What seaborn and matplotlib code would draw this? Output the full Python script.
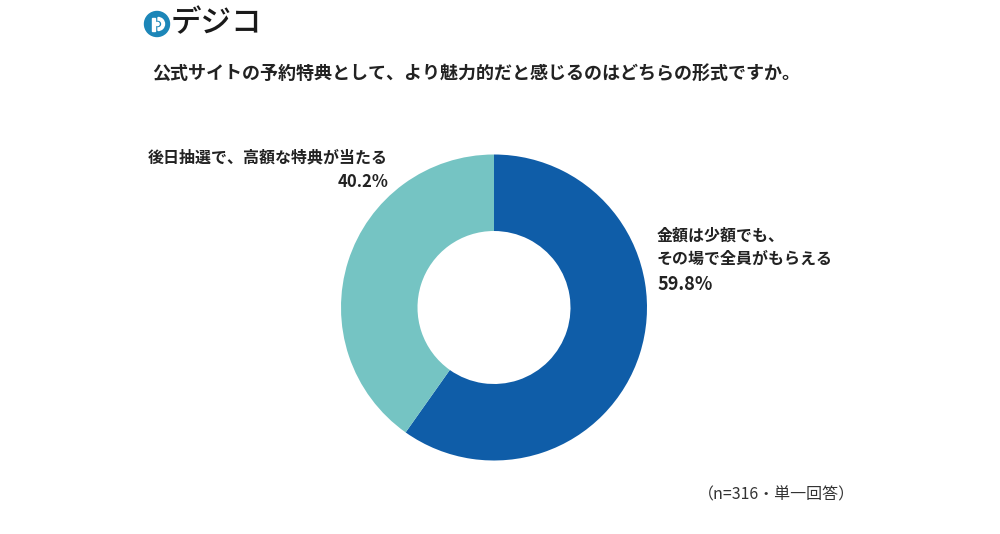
import matplotlib
matplotlib.use("Agg")
import matplotlib.pyplot as plt
import seaborn as sns
from matplotlib.patches import Circle, Wedge

sns.set_theme(style="white")
plt.rcParams['font.family'] = ['Noto Sans CJK JP', 'DejaVu Sans']

# Data
categories = ["金額は少額でも、\nその場で全員がもらえる", "後日抽選で、高額な特典が当たる"]
values = [59.8, 40.2]
colors = ["#0F5DA8", "#75C4C3"]
title = "公式サイトの予約特典として、より魅力的だと感じるのはどちらの形式ですか。"
note = "（n=316・単一回答）"

W, H = 1000, 534
fig = plt.figure(figsize=(W / 100, H / 100), dpi=100)
fig.patch.set_facecolor("white")

# Donut axes (pixel geometry)
cx, cy, r = 494, 307.5, 153
ax = fig.add_axes([(cx - r) / W, (H - cy - r) / H, 2 * r / W, 2 * r / H])
ax.pie(values, colors=colors, startangle=90, counterclock=False,
       radius=1.0, wedgeprops=dict(width=0.5, linewidth=0))
ax.set_xlim(-1, 1)
ax.set_ylim(-1, 1)
ax.set_aspect("equal")
ax.axis("off")

def fx(x):
    return x / W

def fy(y):
    return 1 - y / H

# Title
fig.text(fx(476), fy(73), title, ha="center", va="center", fontsize=13,
         fontweight="bold", color="#222222")

# Left label (40.2%)
fig.text(fx(388), fy(157), categories[1], ha="right", va="center", fontsize=11.5,
         fontweight="bold", color="#222222")
fig.text(fx(388), fy(182), f"{values[1]:.1f}%", ha="right", va="center", fontsize=12,
         fontweight="bold", color="#222222")

# Right label (59.8%)
lines = categories[0].split("\n")
fig.text(fx(657), fy(236), lines[0], ha="left", va="center", fontsize=11.5,
         fontweight="bold", color="#222222")
fig.text(fx(657), fy(259), lines[1], ha="left", va="center", fontsize=11.5,
         fontweight="bold", color="#222222")
fig.text(fx(657), fy(284), f"{values[0]:.1f}%", ha="left", va="center", fontsize=13,
         fontweight="bold", color="#222222")

# Footnote
fig.text(fx(855), fy(495), note, ha="right", va="center", fontsize=11.5,
         color="#333333")

# Logo
lax = fig.add_axes([0, 0, 1, 1], facecolor="none")
lax.set_xlim(0, W)
lax.set_ylim(H, 0)
lax.axis("off")
lax.add_patch(Circle((157, 24), 12.5, color="#1C86B8", zorder=1))
lax.add_patch(Wedge((158, 24), 6.5, -90, 90, width=2.6, color="white", zorder=2))
lax.add_patch(plt.Rectangle((152, 17.5), 2.6, 13, color="white", zorder=2))
lax.add_patch(Circle((157.5, 24), 1.6, color="white", zorder=2))
lax.text(171, 24, "デジコ", ha="left", va="center", fontsize=22,
         color="#1a1a1a", fontweight="medium")

fig.savefig("out.png", dpi=100, facecolor="white")
